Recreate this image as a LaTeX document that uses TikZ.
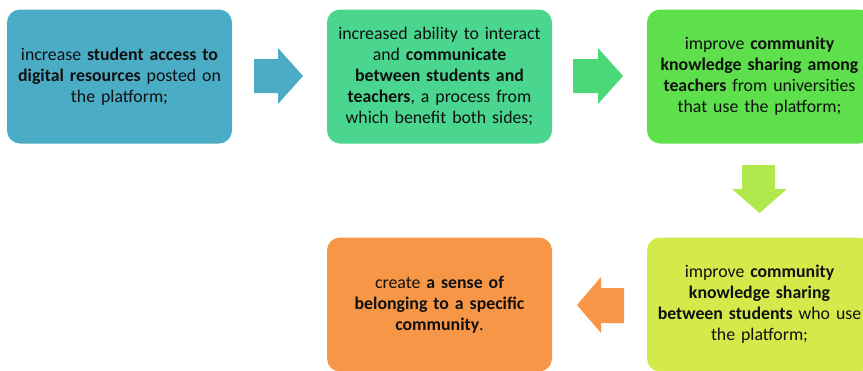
\documentclass[tikz,border=0pt]{standalone}
\usepackage{fontspec}
\setmainfont{Carlito}
\definecolor{cA}{HTML}{4BACC6}
\definecolor{cB}{HTML}{4AD68F}
\definecolor{cBa}{HTML}{4BD878}
\definecolor{cC}{HTML}{5DE04B}
\definecolor{cCa}{HTML}{B0E84D}
\definecolor{cD}{HTML}{D4EA4B}
\definecolor{cE}{HTML}{F79646}
\definecolor{txt}{HTML}{111111}
\tikzset{
  stagebox/.style={rectangle, rounded corners=13pt, minimum width=225pt, minimum height=134pt,
    inner sep=0pt, text width=222pt, align=center, text=txt,
    font=\fontsize{17.8}{21}\selectfont},
  blockarrow/.style={draw=none}
}
\begin{document}
\begin{tikzpicture}[x=1pt,y=1pt]
\useasboundingbox (0,0) rectangle (863,-370);
\fill[white] (0,0) rectangle (863,-370);
\clip (0,0) rectangle (863,-370);
\node[stagebox, fill=cA] (b1) at (119.5,-76.5) {increase \textbf{student access to}\\\textbf{digital resources} posted on\\the platform;};
\node[stagebox, fill=cB] (b2) at (439.5,-76.5) {increased ability to interact\\and \textbf{communicate}\\\textbf{between students and}\\\textbf{teachers}, a process from\\which benefit both sides;};
\node[stagebox, fill=cC] (b3) at (759.5,-76.5) {improve \textbf{community}\\\textbf{knowledge sharing among}\\\textbf{teachers} from universities\\that use the platform;};
\node[stagebox, fill=cD] (b4) at (759.5,-304.5) {improve \textbf{community}\\\textbf{knowledge sharing}\\\textbf{between students} who use\\the platform;};
\node[stagebox, fill=cE] (b5) at (439.5,-304.5) {create \textbf{a sense of}\\\textbf{belonging to a specific}\\\textbf{community}.};
% block arrows between stages
\fill[cA] (254,-59) -- (278,-59) -- (278,-48) -- (303,-76) -- (278,-104) -- (278,-93) -- (254,-93) -- cycle;
\fill[cBa] (573,-59) -- (598,-59) -- (598,-48) -- (623,-76) -- (598,-104) -- (598,-93) -- (573,-93) -- cycle;
\fill[cCa] (742,-165) -- (775,-165) -- (775,-189) -- (787,-189) -- (759.5,-213) -- (732,-189) -- (742,-189) -- cycle;
\fill[cE] (624,-288) -- (601,-288) -- (601,-277) -- (577,-305) -- (601,-333) -- (601,-323) -- (624,-323) -- cycle;
\end{tikzpicture}
\end{document}
